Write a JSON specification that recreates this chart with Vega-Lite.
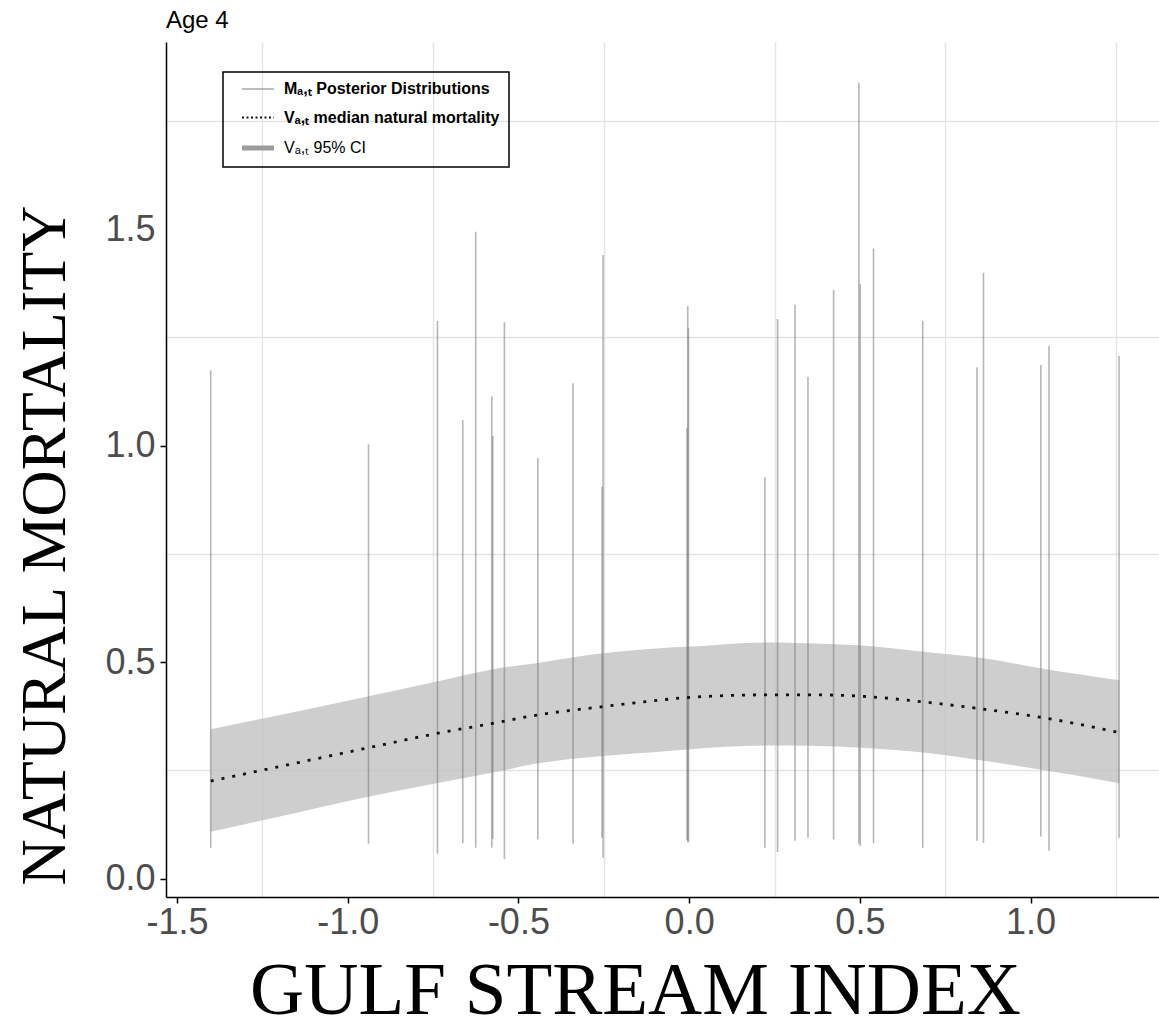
{
  "$schema": "https://vega.github.io/schema/vega-lite/v6.json",
  "width": 993,
  "height": 855,
  "autosize": "none",
  "padding": {"left": 166, "top": 42, "right": 0, "bottom": 133},
  "background": "white",
  "title": {
    "text": "Age 4",
    "anchor": "start",
    "frame": "group",
    "font": "Liberation Sans",
    "fontSize": 24,
    "fontWeight": "normal",
    "color": "black",
    "baseline": "alphabetic",
    "offset": -10
  },
  "config": {
    "view": {"stroke": null},
    "axis": {
      "domainColor": "black",
      "domainWidth": 1.5,
      "tickColor": "black",
      "tickWidth": 1.5,
      "tickSize": 6,
      "gridColor": "#e4e4e4",
      "gridWidth": 1.4,
      "labelFont": "Liberation Sans",
      "labelFontSize": 36,
      "labelColor": "#4d4d4d",
      "titleFont": "Liberation Serif",
      "titleFontWeight": "normal",
      "titleColor": "black"
    }
  },
  "datasets": {
    "band": [
      {"gsi": -1.401, "lower": 0.108, "median": 0.225, "upper": 0.345},
      {"gsi": -1.245, "lower": 0.135, "median": 0.251, "upper": 0.370},
      {"gsi": -0.939, "lower": 0.189, "median": 0.302, "upper": 0.421},
      {"gsi": -0.739, "lower": 0.220, "median": 0.335, "upper": 0.455},
      {"gsi": -0.578, "lower": 0.244, "median": 0.358, "upper": 0.483},
      {"gsi": -0.442, "lower": 0.266, "median": 0.378, "upper": 0.498},
      {"gsi": -0.252, "lower": 0.283, "median": 0.397, "upper": 0.520},
      {"gsi": -0.086, "lower": 0.293, "median": 0.412, "upper": 0.532},
      {"gsi": -0.005, "lower": 0.298, "median": 0.418, "upper": 0.535},
      {"gsi": 0.222, "lower": 0.307, "median": 0.424, "upper": 0.545},
      {"gsi": 0.387, "lower": 0.306, "median": 0.424, "upper": 0.542},
      {"gsi": 0.504, "lower": 0.302, "median": 0.421, "upper": 0.538},
      {"gsi": 0.685, "lower": 0.291, "median": 0.408, "upper": 0.524},
      {"gsi": 0.863, "lower": 0.272, "median": 0.391, "upper": 0.509},
      {"gsi": 1.033, "lower": 0.251, "median": 0.372, "upper": 0.485},
      {"gsi": 1.260, "lower": 0.220, "median": 0.337, "upper": 0.458}
    ],
    "draws": [
      {"gsi": -1.401, "lo": 0.071, "hi": 1.174},
      {"gsi": -0.939, "lo": 0.080, "hi": 1.003},
      {"gsi": -0.737, "lo": 0.057, "hi": 1.288},
      {"gsi": -0.663, "lo": 0.082, "hi": 1.059},
      {"gsi": -0.625, "lo": 0.071, "hi": 1.494},
      {"gsi": -0.578, "lo": 0.071, "hi": 1.114},
      {"gsi": -0.575, "lo": 0.091, "hi": 1.022},
      {"gsi": -0.541, "lo": 0.045, "hi": 1.285},
      {"gsi": -0.443, "lo": 0.090, "hi": 0.971},
      {"gsi": -0.340, "lo": 0.080, "hi": 1.144},
      {"gsi": -0.252, "lo": 0.048, "hi": 1.440},
      {"gsi": -0.255, "lo": 0.094, "hi": 0.905},
      {"gsi": -0.004, "lo": 0.084, "hi": 1.322},
      {"gsi": -0.002, "lo": 0.084, "hi": 1.271},
      {"gsi": -0.006, "lo": 0.089, "hi": 1.040},
      {"gsi": 0.222, "lo": 0.071, "hi": 0.927},
      {"gsi": 0.259, "lo": 0.061, "hi": 1.292},
      {"gsi": 0.310, "lo": 0.087, "hi": 1.325},
      {"gsi": 0.348, "lo": 0.094, "hi": 1.159},
      {"gsi": 0.423, "lo": 0.090, "hi": 1.359},
      {"gsi": 0.497, "lo": 0.080, "hi": 1.838},
      {"gsi": 0.501, "lo": 0.075, "hi": 1.373},
      {"gsi": 0.540, "lo": 0.082, "hi": 1.455},
      {"gsi": 0.684, "lo": 0.071, "hi": 1.288},
      {"gsi": 0.843, "lo": 0.087, "hi": 1.181},
      {"gsi": 0.862, "lo": 0.082, "hi": 1.399},
      {"gsi": 1.030, "lo": 0.097, "hi": 1.186},
      {"gsi": 1.054, "lo": 0.064, "hi": 1.230},
      {"gsi": 1.259, "lo": 0.094, "hi": 1.207}
    ]
  },
  "encoding": {
    "x": {
      "field": "gsi",
      "type": "quantitative",
      "title": "GULF STREAM INDEX",
      "scale": {"domain": [-1.532, 1.376], "nice": false, "zero": false},
      "axis": {
        "values": [-1.5, -1.25, -1, -0.75, -0.5, -0.25, 0, 0.25, 0.5, 0.75, 1, 1.25],
        "labelExpr": "abs(datum.value * 2 - round(datum.value * 2)) > 0.01 ? '' : (datum.value < 0 ? '-' : '') + format(abs(datum.value), '.1f')",
        "gridOpacity": {"condition": {"test": "abs(datum.value * 2 - round(datum.value * 2)) > 0.01", "value": 1}, "value": 0},
        "tickOpacity": {"condition": {"test": "abs(datum.value * 2 - round(datum.value * 2)) > 0.01", "value": 0}, "value": 1},
        "labelPadding": 2,
        "labelFlush": false,
        "labelOverlap": false,
        "titleFontSize": 75,
        "titleX": 469,
        "titleY": 116,
        "titleAlign": "center",
        "titleBaseline": "alphabetic"
      }
    }
  },
  "layer": [
    {
      "data": {"name": "band"},
      "mark": {"type": "area", "interpolate": "monotone", "fill": "#c2c2c2", "fillOpacity": 0.8},
      "encoding": {
        "y": {
          "field": "lower",
          "type": "quantitative",
          "title": "NATURAL MORTALITY",
          "scale": {"domain": [-0.0427, 1.932], "nice": false, "zero": false},
          "axis": {
            "values": [0, 0.25, 0.5, 0.75, 1, 1.25, 1.5, 1.75],
            "labelExpr": "abs(datum.value * 2 - round(datum.value * 2)) > 0.01 ? '' : format(datum.value, '.1f')",
            "gridOpacity": {"condition": {"test": "abs(datum.value * 2 - round(datum.value * 2)) > 0.01", "value": 1}, "value": 0},
            "tickOpacity": {"condition": {"test": "abs(datum.value * 2 - round(datum.value * 2)) > 0.01 || datum.value == 1.5", "value": 0}, "value": 1},
            "labelPadding": 5,
            "labelOverlap": false,
            "labelFlush": false,
            "titleFontSize": 64,
            "titleAngle": -90,
            "titleX": -102,
            "titleY": 503,
            "titleAlign": "center",
            "titleBaseline": "alphabetic"
          }
        },
        "y2": {"field": "upper"}
      }
    },
    {
      "data": {"name": "draws"},
      "mark": {"type": "rule", "stroke": "#7a7a7a", "strokeOpacity": 0.55, "strokeWidth": 1.6},
      "encoding": {
        "y": {"field": "lo", "type": "quantitative", "title": "NATURAL MORTALITY"},
        "y2": {"field": "hi"}
      }
    },
    {
      "data": {"name": "band"},
      "mark": {"type": "line", "interpolate": "monotone", "strokeWidth": 2.8, "strokeDash": [3, 8], "strokeCap": "butt"},
      "encoding": {
        "y": {"field": "median", "type": "quantitative", "title": "NATURAL MORTALITY"},
        "stroke": {
          "datum": "Vₐ,ₜ median natural mortality",
          "type": "nominal",
          "scale": {
            "domain": ["Mₐ,ₜ Posterior Distributions", "Vₐ,ₜ median natural mortality", "Vₐ,ₜ 95% CI"],
            "range": ["#a8a8a8", "#111111", "#9c9c9c"]
          },
          "legend": {
            "title": null,
            "orient": "none",
            "legendX": 57,
            "legendY": 30,
            "symbolType": "stroke",
            "symbolSize": 1024,
            "symbolOffset": 18,
            "labelFont": "Liberation Sans",
            "labelFontSize": 16,
            "labelColor": "black",
            "labelOffset": 18,
            "labelLimit": 400,
            "strokeColor": "black",
            "padding": 9,
            "rowPadding": 12.5,
            "encode": {
              "legend": {"update": {"strokeWidth": {"value": 1.5}}},
              "symbols": {
                "update": {
                  "strokeDash": {"signal": "datum.index === 1 ? [2, 2.5] : [1, 0]"},
                  "strokeWidth": {"signal": "datum.index === 2 ? 5 : datum.index === 1 ? 2 : 1.5"}
                }
              },
              "labels": {
                "update": {"fontWeight": {"signal": "datum.index === 2 ? 'normal' : 'bold'"}}
              }
            }
          }
        }
      }
    }
  ]
}
